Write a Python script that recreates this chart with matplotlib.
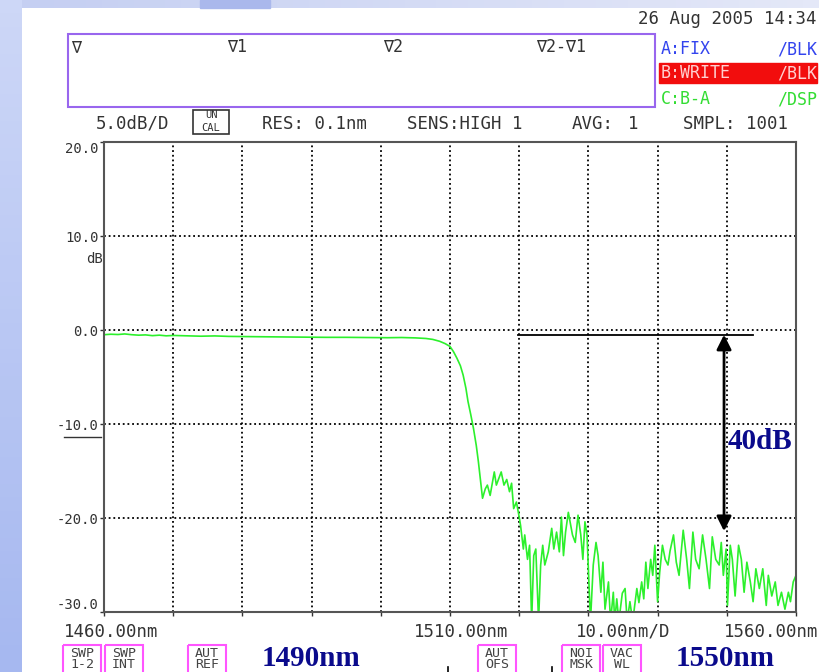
import numpy as np
import matplotlib
matplotlib.use("Agg")
import matplotlib.pyplot as plt
from matplotlib.patches import Rectangle

# spectrum trace (nm, dB); -31 means clipped at the bottom
wavelength_nm = [
    1460.0, 1461.0, 1462.0, 1463.0, 1464.0, 1465.0, 1466.0, 1467.0, 1468.0, 1469.0,
    1470.0, 1472.0, 1474.0, 1476.0, 1478.0, 1480.0, 1483.0, 1486.0, 1489.0, 1492.0,
    1495.0, 1498.0, 1501.0, 1503.0, 1505.0, 1506.5, 1507.5, 1508.5, 1509.3, 1510.0,
    1510.5, 1511.0, 1511.5, 1511.9, 1512.3, 1512.6, 1513.0, 1513.4, 1513.8, 1514.1,
    1514.4, 1514.7, 1515.1, 1515.4, 1515.8, 1516.4, 1516.7, 1517.4, 1517.8, 1518.2,
    1518.6, 1518.9, 1519.2, 1519.6, 1520.0, 1520.2, 1520.6, 1520.8, 1521.2, 1521.5,
    1521.8, 1522.1, 1522.4, 1522.8, 1523.1, 1523.4, 1523.7, 1524.2, 1524.7, 1525.0,
    1525.4, 1525.8, 1526.1, 1526.4, 1526.7, 1527.1, 1527.7, 1528.1, 1528.5, 1528.9,
    1529.2, 1529.5, 1529.8, 1530.3, 1530.7, 1531.1, 1531.4, 1531.8, 1532.1, 1532.4,
    1532.9, 1533.2, 1533.6, 1533.8, 1534.1, 1534.4, 1534.9, 1535.3, 1535.6, 1536.0,
    1536.4, 1537.0, 1537.3, 1537.7, 1538.0, 1538.3, 1538.6, 1539.0, 1539.3, 1539.6,
    1540.0, 1540.3, 1540.7, 1541.1, 1541.5, 1541.8, 1542.3, 1542.7, 1543.1, 1543.7,
    1544.2, 1544.6, 1545.1, 1545.5, 1546.0, 1546.5, 1547.0, 1547.5, 1547.9, 1548.4,
    1548.9, 1549.2, 1549.5, 1549.9, 1550.1, 1550.5, 1550.8, 1551.2, 1551.7, 1552.1,
    1552.5, 1552.9, 1553.4, 1553.8, 1554.2, 1554.7, 1555.2, 1555.7, 1556.0, 1556.5,
    1557.0, 1557.4, 1557.9, 1558.4, 1558.9, 1559.2, 1559.6, 1560.0,
]
power_db = [
    -0.50, -0.45, -0.48, -0.42, -0.50, -0.55, -0.52, -0.60, -0.55, -0.62,
    -0.58, -0.62, -0.66, -0.63, -0.68, -0.70, -0.72, -0.74, -0.76, -0.78,
    -0.78, -0.80, -0.82, -0.80, -0.84, -0.90, -1.00, -1.20, -1.45, -1.75,
    -2.3, -3.0, -3.8, -4.8, -6.2, -7.6, -9.0, -10.5, -12.3, -14.0,
    -16.0, -17.9, -16.9, -16.5, -17.6, -15.1, -16.5, -15.1, -16.5, -15.9,
    -17.2, -16.3, -19.0, -18.3, -19.9, -20.8, -23.3, -21.8, -24.4, -22.9,
    -31.0, -24.0, -23.3, -31.0, -25.0, -22.9, -25.0, -23.6, -21.1, -23.3,
    -21.5, -23.6, -19.9, -24.0, -21.5, -19.4, -21.8, -22.6, -19.7, -21.8,
    -24.4, -20.4, -21.8, -31.0, -25.0, -22.6, -24.0, -27.9, -24.7, -29.7,
    -26.8, -31.0, -27.9, -31.0, -28.6, -31.0, -28.0, -27.5, -31.0, -28.9,
    -31.0, -27.5, -29.0, -26.8, -28.6, -24.7, -27.5, -24.4, -26.1, -22.9,
    -28.9, -25.8, -22.9, -24.4, -25.0, -23.5, -21.8, -24.7, -26.1, -21.3,
    -24.4, -27.5, -21.5, -24.4, -25.4, -21.8, -24.4, -27.5, -22.0, -24.4,
    -25.0, -22.6, -26.1, -23.3, -29.3, -22.9, -24.4, -28.3, -22.9, -24.4,
    -27.9, -24.7, -26.8, -28.9, -25.4, -27.5, -25.4, -29.3, -26.1, -28.3,
    -26.8, -29.3, -27.9, -29.7, -27.9, -28.9, -26.8, -26.1,
]

y_ticks = [20, 10, 0, -10, -20, -30]
y_labels = ["20.0", "10.0", "0.0", "-10.0", "-20.0", "-30.0"]
x_ticks = list(range(1460, 1561, 10))

W, H = 819, 672
MONO = "DejaVu Sans Mono"


def fp(x, y):
    """ pixel (from top-left) -> figure fraction """
    return x / W, 1 - y / H


fig = plt.figure(figsize=(W / 100, H / 100), dpi=100)
fig.patch.set_facecolor("white")

# bluish slide background at the left and top edges
bg = fig.add_axes([0, 0, 1, 1], zorder=-5)
bg.set_xlim(0, W)
bg.set_ylim(H, 0)
bg.axis("off")
grad = np.linspace(0, 1, 50).reshape(-1, 1)
bg.imshow(grad, extent=[0, 22, H, 0], cmap=plt.matplotlib.colors.LinearSegmentedColormap.from_list(
    "l", ["#cdd7f7", "#a6b8f0"]), aspect="auto")
bg.imshow(grad.T, extent=[22, W, 8, 0], cmap=plt.matplotlib.colors.LinearSegmentedColormap.from_list(
    "t", ["#c5cff2", "#e4e8f8"]), aspect="auto")
bg.add_patch(Rectangle((200, 0), 70, 8, color="#aab8ec"))

# marker box
bg.add_patch(Rectangle((68, 34), 587, 73, fill=False, ec="#9966ee", lw=1.5))
for x, s in [(71, "∇"), (227, "∇1"), (383, "∇2"), (536, "∇2-∇1")]:
    bg.text(x, 47, s, family=MONO, fontsize=12, color="#333333", va="center")

bg.text(817, 19, "26 Aug 2005 14:34", family=MONO, fontsize=12.5, color="#333333",
        ha="right", va="center")

# trace status on the right
bg.text(661, 49, "A:FIX", family=MONO, fontsize=12, color="#3344ee", va="center")
bg.text(817, 49, "/BLK", family=MONO, fontsize=12, color="#3344ee", va="center", ha="right")
bg.add_patch(Rectangle((659, 63), 158, 20, color="#f20d0d"))
bg.text(661, 73, "B:WRITE", family=MONO, fontsize=12, color="#ffd0d0", va="center")
bg.text(817, 73, "/BLK", family=MONO, fontsize=12, color="#ffd0d0", va="center", ha="right")
bg.text(661, 99, "C:B-A", family=MONO, fontsize=12, color="#33dd33", va="center")
bg.text(817, 99, "/DSP", family=MONO, fontsize=12, color="#33dd33", va="center", ha="right")

# settings line
for x, s in [(96, "5.0dB/D"), (262, "RES: 0.1nm"), (407, "SENS:HIGH 1"),
             (572, "AVG:"), (628, "1"), (683, "SMPL: 1001")]:
    bg.text(x, 124, s, family=MONO, fontsize=12.5, color="#333333", va="center")
bg.add_patch(Rectangle((193, 110), 36, 24, fill=False, ec="#333333", lw=1.2))
bg.text(211, 115.5, "UN", family=MONO, fontsize=7.5, color="#333333", ha="center", va="center")
bg.text(211, 128, "CAL", family=MONO, fontsize=7.5, color="#333333", ha="center", va="center")

# x scale labels
bg.text(64, 632, "1460.00nm", family=MONO, fontsize=12.5, color="#333333", va="center")
bg.text(461, 632, "1510.00nm", family=MONO, fontsize=12.5, color="#333333", va="center", ha="center")
bg.text(623, 632, "10.00nm/D", family=MONO, fontsize=12.5, color="#333333", va="center", ha="center")
bg.text(818, 632, "1560.00nm", family=MONO, fontsize=12.5, color="#333333", va="center", ha="right")

# soft keys along the bottom
for x0, x1, s in [(63, 101, "SWP\n1-2"), (105, 143, "SWP\nINT"), (188, 226, "AUT\nREF"),
                  (478, 516, "AUT\nOFS"), (562, 600, "NOI\nMSK"), (603, 641, "VAC\nWL")]:
    bg.add_patch(Rectangle((x0, 645), x1 - x0, 30, fill=False, ec="#ff55ff", lw=1.5))
    bg.text((x0 + x1) / 2, 659, s, family=MONO, fontsize=9.5, color="#444444",
            ha="center", va="center", linespacing=0.85)
for x in (448, 552):
    bg.plot([x, x], [667, 672], color="black", lw=1.2)

bg.text(262, 658, "1490nm", family="Liberation Serif", fontweight="bold", fontsize=21,
        color="#0a0a8c", va="center")
bg.text(676, 658, "1550nm", family="Liberation Serif", fontweight="bold", fontsize=21,
        color="#0a0a8c", va="center")

# spectrum axes
l, b = fp(104, 612)
r, t = fp(796, 142)
ax = fig.add_axes([l, b, r - l, t - b])
ax.plot(wavelength_nm, power_db, color="#2cf02c", lw=1.2)
ax.set_xlim(1460, 1560)
ax.set_ylim(-30, 20)
ax.set_xticks(x_ticks)
ax.set_xticklabels([])
ax.set_yticks(y_ticks)
ax.set_yticklabels(y_labels, family=MONO, fontsize=10, color="#333333")
ax.tick_params(axis="both", length=3, width=1, color="#333333", pad=1)
labels = ax.get_yticklabels()
labels[0].set_va("top")
labels[-1].set_va("bottom")
ax.grid(True, color="black", linestyle=(0, (1, 1.6)), lw=1.3)
for sp in ax.spines.values():
    sp.set_color("#555555")
    sp.set_linewidth(1.5)
ax.text(-0.002, 0.752, "dB", transform=ax.transAxes, family=MONO, fontsize=10,
        color="#333333", ha="right", va="center")
# -10.0 is underlined on the screen
ax.plot([-0.058, -0.004], [0.373, 0.373], transform=ax.transAxes, color="#333333",
        lw=1, clip_on=False)

# 40 dB annotation
ax.plot([1519.8, 1553.8], [-0.5, -0.5], color="black", lw=1.3)
ax.annotate("", xy=(1549.6, -21.4), xytext=(1549.6, -0.5),
            arrowprops=dict(arrowstyle="<|-|>", color="black", lw=2, mutation_scale=22,
                            shrinkA=0, shrinkB=0))
ax.text(1550.1, -11.9, "40dB", family="Liberation Serif", fontweight="bold", fontsize=21,
        color="#0a0a8c", va="center")

fig.savefig("out.png", dpi=100)
